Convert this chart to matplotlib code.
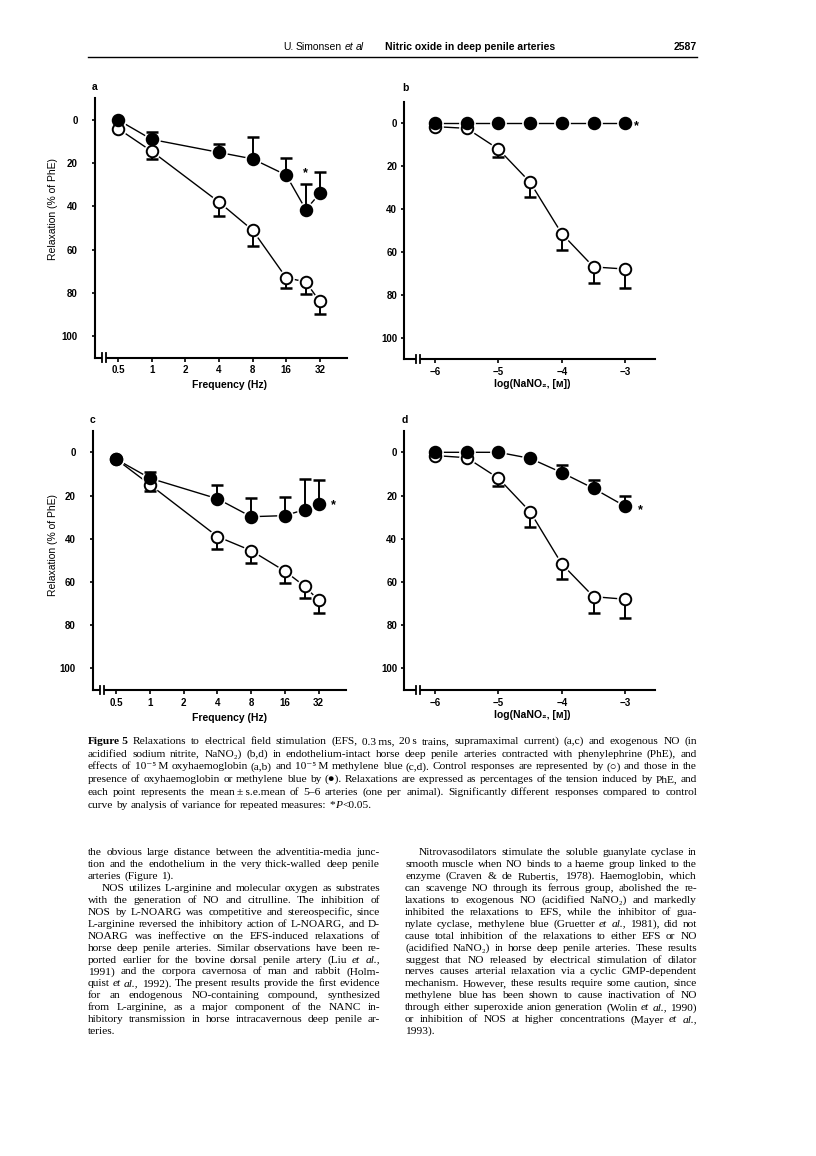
import matplotlib
matplotlib.use("Agg")
import matplotlib.pyplot as plt
from matplotlib.lines import Line2D
from matplotlib.ticker import NullLocator
import numpy as np

nan = np.nan

# --- data (relaxation, % of PhE) ---
freq = [0.5, 1, 4, 8, 16, 24, 32]
conc = [-6, -5.5, -5, -4.5, -4, -3.5, -3]

a_hb_mean = [0, 9, 15, 18, 25.5, 41.5, 34]
a_hb_cap = [nan, 5.5, 11, 8, 17.5, 29.5, 24]
a_ctl_mean = [4, 14.5, 38, 51, 73, 75, 84]
a_ctl_cap = [nan, 18, 44.5, 58.5, 78, 80.5, 90]

b_hb_mean = [0, 0, 0, 0, 0, 0, 0]
b_hb_cap = [nan, nan, nan, nan, nan, nan, nan]
b_ctl_mean = [1.5, 2.3, 12, 27.5, 51.5, 67, 68]
b_ctl_cap = [nan, nan, 15.5, 34.5, 59, 74.5, 77]

c_mb_mean = [3.2, 12, 21.5, 29.8, 29.3, 26.5, 23.7]
c_mb_cap = [nan, 9, 15, 21, 20.5, 12.3, 12.7]
c_ctl_mean = [3.2, 15, 39, 45.5, 55, 62, 68.5]
c_ctl_cap = [nan, 18, 44.8, 51.4, 60.6, 67.3, 74.2]

d_mb_mean = [0, 0, 0, 2.8, 9.4, 16.7, 25]
d_mb_cap = [nan, nan, nan, nan, 6, 12.8, 20.2]
d_ctl_mean = [1.5, 2.5, 12, 27.5, 51.7, 66.8, 68]
d_ctl_cap = [nan, nan, 15.4, 34.7, 58.8, 74.2, 76.9]

freq_ticks = [0.5, 1, 2, 4, 8, 16, 32]
freq_labels = ["0.5", "1", "2", "4", "8", "16", "32"]
conc_ticks = [-6, -5, -4, -3]
conc_labels = ["\u22126", "\u22125", "\u22124", "\u22123"]
y_ticks = [0, 20, 40, 60, 80, 100]

caption = [
    "^Figure|^\u20095 Relaxations to electrical field stimulation (EFS, 0.3\u2009ms, 20\u2009s trains, supramaximal current) (a,c) and exogenous NO (in",
    "acidified sodium nitrite, NaNO\u2082) (b,d) in endothelium-intact horse deep penile arteries contracted with phenylephrine (PhE), and",
    "effects of 10\u207b\u2075\u2009M oxyhaemoglobin (a,b) and 10\u207b\u2075\u2009M methylene blue (c,d). Control responses are represented by (\u25cb) and those in the",
    "presence of oxyhaemoglobin or methylene blue by (\u25cf). Relaxations are expressed as percentages of the tension induced by PhE, and",
    "each point represents the mean\u2009\u00b1\u2009s.e.mean of 5\u20136 arteries (one per animal). Significantly different responses compared to control",
    "curve by analysis of variance for repeated measures: *|~P|<0.05.",
]

left_col = [
    "the obvious large distance between the adventitia-media junc-",
    "tion and the endothelium in the very thick-walled deep penile",
    "arteries (Figure 1).",
    "NOS utilizes L-arginine and molecular oxygen as substrates",
    "with the generation of NO and citrulline. The inhibition of",
    "NOS by L-NOARG was competitive and stereospecific, since",
    "L-arginine reversed the inhibitory action of L-NOARG, and D-",
    "NOARG was ineffective on the EFS-induced relaxations of",
    "horse deep penile arteries. Similar observations have been re-",
    "ported earlier for the bovine dorsal penile artery (Liu ~et ~al.,",
    "1991) and the corpora cavernosa of man and rabbit (Holm-",
    "quist ~et ~al., 1992). The present results provide the first evidence",
    "for an endogenous NO-containing compound, synthesized",
    "from L-arginine, as a major component of the NANC in-",
    "hibitory transmission in horse intracavernous deep penile ar-",
    "teries.",
]
right_col = [
    "Nitrovasodilators stimulate the soluble guanylate cyclase in",
    "smooth muscle when NO binds to a haeme group linked to the",
    "enzyme (Craven & de Rubertis, 1978). Haemoglobin, which",
    "can scavenge NO through its ferrous group, abolished the re-",
    "laxations to exogenous NO (acidified NaNO\u2082) and markedly",
    "inhibited the relaxations to EFS, while the inhibitor of gua-",
    "nylate cyclase, methylene blue (Gruetter ~et ~al., 1981), did not",
    "cause total inhibition of the relaxations to either EFS or NO",
    "(acidified NaNO\u2082) in horse deep penile arteries. These results",
    "suggest that NO released by electrical stimulation of dilator",
    "nerves causes arterial relaxation via a cyclic GMP-dependent",
    "mechanism. However, these results require some caution, since",
    "methylene blue has been shown to cause inactivation of NO",
    "through either superoxide anion generation (Wolin ~et ~al., 1990)",
    "or inhibition of NOS at higher concentrations (Mayer ~et ~al.,",
    "1993).",
]
left_indent = [3]
left_last = [2, 15]
right_indent = [0]
right_last = [15]

SANS = ["Liberation Sans", "DejaVu Sans"]
SERIF = ["Liberation Serif", "DejaVu Serif"]

W, H = 816, 1156
fig = plt.figure(figsize=(W / 100, H / 100), dpi=100)
renderer = fig.canvas.get_renderer()


def fx(px):
    return px / W


def fy(py):
    return 1 - py / H


def text_line(line, x0, x1, y, size, family=SERIF, justify=True):
    placed = []
    for tok in line.split(" "):
        pieces = []
        for p in tok.split("|"):
            style, weight = "normal", "normal"
            if p.startswith("~"):
                style, p = "italic", p[1:]
            if p.startswith("^"):
                weight, p = "bold", p[1:]
            t = fig.text(0, fy(y), p, fontsize=size, family=family,
                         style=style, weight=weight, va="baseline", ha="left")
            pieces.append((t, t.get_window_extent(renderer).width))
        placed.append(pieces)
    widths = [sum(w for _, w in ps) for ps in placed]
    gap = size * 0.25 * 100 / 72
    if justify and len(placed) > 1:
        gap = (x1 - x0 - sum(widths)) / (len(placed) - 1)
    x = x0
    for ps, w in zip(placed, widths):
        xx = x
        for t, pw in ps:
            t.set_x(fx(xx))
            xx += pw
        x += w + gap


def make_axes(left, top, right, bottom):
    return fig.add_axes([fx(left), fy(bottom), (right - left) / W, (bottom - top) / H])


def setup(ax, log, ypad, brk):
    ax.set_ylim(110, -10)
    for s in ["top", "right"]:
        ax.spines[s].set_visible(False)
    for s in ["left", "bottom"]:
        ax.spines[s].set_linewidth(1.5)
    if log:
        ax.set_xscale("log", base=2)
        ax.set_xlim(2 ** -1.69, 2 ** 5.81)
        ax.set_xticks(freq_ticks, labels=freq_labels, fontsize=7, weight="bold", family=SANS)
    else:
        ax.set_xlim(-6.49, -2.53)
        ax.set_xticks(conc_ticks, labels=conc_labels, fontsize=7, weight="bold", family=SANS)
    ax.xaxis.set_minor_locator(NullLocator())
    ax.set_yticks(y_ticks, labels=[str(v) for v in y_ticks], fontsize=7, weight="bold", family=SANS)
    ax.tick_params(axis="y", direction="out", length=2.5, width=1.2, pad=ypad)
    ax.tick_params(axis="x", direction="out", length=3, width=1.2, pad=2.5)
    # axis break on the x axis
    ax.plot(brk, [0, 0], color="white", lw=3, transform=ax.transAxes,
            clip_on=False, zorder=5, solid_capstyle="butt")
    for b in brk:
        ax.plot([b, b], [-0.016, 0.016], color="black", lw=1.3,
                transform=ax.transAxes, clip_on=False, zorder=6)


def draw(ax, x, mean, cap, filled):
    x, mean, cap = np.asarray(x, float), np.asarray(mean, float), np.asarray(cap, float)
    ok = ~np.isnan(cap)
    ax.plot(x, mean, color="black", lw=1.0, zorder=1)
    # white halo so the joining line stops just short of each symbol
    ax.plot(x, mean, ls="none", marker="o", ms=11, mfc="white", mec="white", zorder=1.5)
    ax.vlines(x[ok], mean[ok], cap[ok], color="black", lw=1.4, zorder=2)
    ax.plot(x[ok], cap[ok], ls="none", marker="_", ms=8.5, mew=1.8, color="black", zorder=2)
    ax.plot(x, mean, ls="none", marker="o", ms=8.3,
            mfc="black" if filled else "white", mec="black", mew=1.4,
            zorder=4 if filled else 3)


ax_a = make_axes(95, 98.4, 347, 357.6)
ax_b = make_axes(404, 102, 655, 359)
ax_c = make_axes(93, 430.7, 346, 690)
ax_d = make_axes(404, 430.7, 655, 690)

setup(ax_a, True, 10, [0.028, 0.045])
setup(ax_b, False, 2.5, [0.046, 0.064])
setup(ax_c, True, 10, [0.028, 0.045])
setup(ax_d, False, 2.5, [0.046, 0.064])

draw(ax_a, freq, a_ctl_mean, a_ctl_cap, False)
draw(ax_a, freq, a_hb_mean, a_hb_cap, True)
draw(ax_b, conc, b_ctl_mean, b_ctl_cap, False)
draw(ax_b, conc, b_hb_mean, b_hb_cap, True)
draw(ax_c, freq, c_ctl_mean, c_ctl_cap, False)
draw(ax_c, freq, c_mb_mean, c_mb_cap, True)
draw(ax_d, conc, d_ctl_mean, d_ctl_cap, False)
draw(ax_d, conc, d_mb_mean, d_mb_cap, True)

star = dict(ha="center", va="center", fontsize=9, weight="bold", family=SANS)
ax_a.text(24, 24.5, "*", **star)
ax_b.text(-2.82, 1.5, "*", **star)
ax_c.text(43, 24.5, "*", **star)
ax_d.text(-2.76, 27, "*", **star)

# panel letters and axis titles
for lab, x, y in [("a", 95, 87), ("b", 405, 88), ("c", 93, 420), ("d", 405, 420)]:
    fig.text(fx(x), fy(y), lab, ha="center", va="center", fontsize=7.5, weight="bold", family=SANS)
for y in [209, 545]:
    fig.text(fx(53), fy(y), "Relaxation (% of PhE)", rotation=90, ha="center", va="center",
             fontsize=7.5, family=SANS)
for y in [385, 718]:
    fig.text(fx(230), fy(y), "Frequency (Hz)", ha="center", va="center",
             fontsize=7.5, weight="bold", family=SANS)
for y in [384, 715]:
    fig.text(fx(532), fy(y), "log(NaNO\u2082, [\u1d0d])", ha="center", va="center",
             fontsize=7.5, weight="bold", family=SANS)

# running head
text_line("U. Simonsen ~et ~al", 283, 0, 50, 7.5, family=SANS, justify=False)
fig.text(fx(385), fy(50), "Nitric oxide in deep penile arteries", fontsize=7.5,
         weight="bold", family=SANS, va="baseline")
fig.text(fx(697), fy(50), "2587", fontsize=7.5, weight="bold", family=SANS,
         va="baseline", ha="right")
fig.add_artist(Line2D([fx(88), fx(697)], [fy(57), fy(57)], lw=1, color="black"))

# caption
for i, line in enumerate(caption):
    text_line(line, 88, 697, 744 + 12.7 * i, 8.2, justify=i < len(caption) - 1)

# body text, two columns
for i, line in enumerate(left_col):
    x0 = 88 + (14 if i in left_indent else 0)
    text_line(line, x0, 380, 855 + 11.95 * i, 8.2, justify=i not in left_last)
for i, line in enumerate(right_col):
    x0 = 405 + (14 if i in right_indent else 0)
    text_line(line, x0, 697, 855 + 11.95 * i, 8.2, justify=i not in right_last)

fig.savefig("out.png", dpi=100)
